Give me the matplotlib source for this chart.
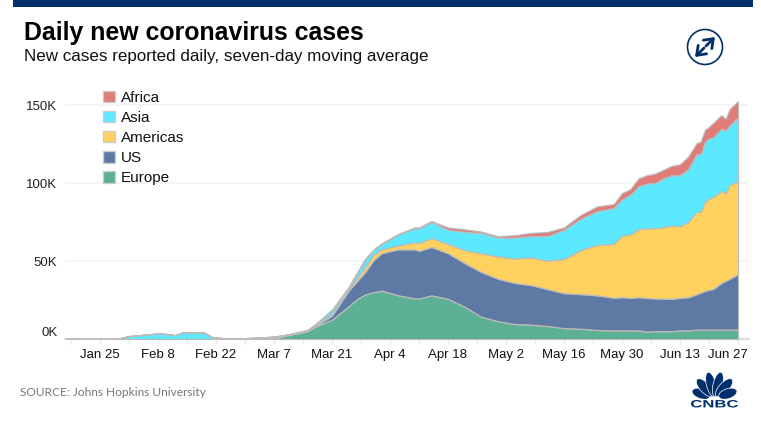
import numpy as np
import pandas as pd
import matplotlib
matplotlib.use('Agg')
from matplotlib import pyplot as plt
from matplotlib import dates as mdates
from matplotlib.patches import Patch, Rectangle, Circle, Ellipse, PathPatch
from matplotlib.textpath import TextPath
from matplotlib.font_manager import FontProperties
from matplotlib.transforms import Affine2D, ScaledTranslation

plt.rcParams['font.family'] = ['Liberation Sans', 'DejaVu Sans']

W, H = 761, 421
NAVY = '#002F6C'

dates = pd.to_datetime([
    '2020-01-17', '2020-01-29', '2020-02-01', '2020-02-05', '2020-02-08', '2020-02-11',
    '2020-02-12', '2020-02-14', '2020-02-19', '2020-02-21', '2020-02-24', '2020-02-27',
    '2020-03-03', '2020-03-07', '2020-03-11', '2020-03-15', '2020-03-17', '2020-03-21',
    '2020-03-25', '2020-03-27', '2020-03-29', '2020-03-31', '2020-04-02', '2020-04-06',
    '2020-04-10', '2020-04-11', '2020-04-14', '2020-04-18', '2020-04-22', '2020-04-26',
    '2020-04-30', '2020-05-04', '2020-05-08', '2020-05-12', '2020-05-16', '2020-05-20',
    '2020-05-24', '2020-05-28', '2020-05-30', '2020-06-01', '2020-06-03', '2020-06-05',
    '2020-06-07', '2020-06-09', '2020-06-11', '2020-06-13', '2020-06-15', '2020-06-17',
    '2020-06-18', '2020-06-19', '2020-06-20', '2020-06-21', '2020-06-23', '2020-06-24',
    '2020-06-25', '2020-06-27',
])

# thousands of new cases per day
europe = [0, 0, 0, 0, 0, 0, 0, 0, 0, 0, 0, 0, 0.1, 0.4, 2.8, 5, 8, 12.4, 21, 25.5, 28.6, 30, 31, 28,
          26, 26, 28, 25.7, 20.7, 14.3, 11.5, 9.6, 9.2, 8.3, 7, 6.6, 5.8, 5.5,
          5.5, 5.5, 5.5, 4.7, 5, 5.1, 5, 5.5, 5.5, 6, 6, 6, 6, 6, 6, 6, 6, 6]
us = [0, 0, 0, 0, 0, 0, 0, 0, 0, 0, 0, 0, 0, 0.1, 0.1, 0.1, 0.3, 2.6, 10, 11.5, 14.4, 20.5, 24, 29.5,
      31.5, 30.5, 31, 29.3, 28, 28.7, 27.2, 26.4, 25.4, 23.7, 22.4, 22.2, 22.2, 21,
      21.3, 20.9, 21.3, 21.6, 21, 20.8, 20.8, 20.9, 21.3, 22.7, 23.7, 24.8, 25.5, 26.1, 30, 31.3, 32.6, 35.6]
americas = [0, 0, 0, 0, 0, 0, 0, 0, 0, 0, 0, 0, 0, 0.1, 0.1, 0.2, 0.3, 1, 1, 2, 3, 3.5, 2.5, 2.5,
            4.5, 5, 5.7, 6, 8.3, 12, 14.3, 15.6, 17.7, 18.2, 21.9, 28.2, 32.4, 34.5,
            39.5, 40.6, 43.6, 44.7, 45, 45.8, 46.9, 46, 48.2, 52.8, 51.8, 57.2, 58.5, 58.9, 59, 56.1, 60.4, 59.4]
asia = [0, 0, 1.9, 2.8, 3.6, 3.0, 2.4, 4.3, 4.3, 1.3, 0.4, 0.3, 0.8, 0.9, 0.2, 0.3, 0.8, 2.5, 1, 3, 5, 3, 3.5, 7,
        9, 9.3, 10.3, 9, 11.7, 13, 12, 13.4, 13.7, 15.8, 18.7, 20, 21.6, 23,
        23.3, 25.5, 27.6, 28.7, 29, 31.3, 32.3, 32.6, 34, 37, 37, 38.5, 38.5, 38.3, 40, 40.1, 38, 41]
africa = [0, 0, 0, 0, 0, 0, 0, 0, 0, 0, 0, 0, 0, 0, 0.1, 0.1, 0.2, 0.2, 0.2, 0.2, 0.3, 0.2, 0.3, 0.4,
          0.6, 0.7, 0.6, 1.5, 1.6, 0.9, 0.9, 1.5, 2, 2.6, 1.5, 2.5, 3, 2.5,
          3.9, 3.5, 5, 5.3, 6, 5.5, 6, 7, 8, 7, 8, 7.5, 7.5, 9.2, 8.5, 7.5, 10.5, 10.5]

series_names = ['Europe', 'US', 'Americas', 'Asia', 'Africa']
series_colors = ['#5CB094', '#5E79A3', '#FFD15F', '#5CE8FF', '#E07B78']

y_ticks = [0, 50, 100, 150]
y_labels = ['0K', '50K', '100K', '150K']
x_major = pd.date_range('2020-01-25', '2020-06-27', freq='14D')
x_minor = pd.date_range('2020-01-18', '2020-06-27', freq='7D')
x_labels = [d.strftime('%b ') + str(d.day) for d in x_major]

fig = plt.figure(figsize=(W / 100, H / 100), dpi=100)

# chart area, 0K sits at y=339 and 150K at y=105
ax = fig.add_axes([65 / W, (H - 339) / H, (749 - 65) / W, 249.6 / H])
ax.stackplot(dates, europe, us, americas, asia, africa, colors=series_colors,
             edgecolor='#BBBBBB', linewidth=0.9, zorder=3)

px_day = 58 / 14
jan25 = mdates.date2num(pd.Timestamp('2020-01-25'))
ax.set_xlim(jan25 - 35 / px_day, jan25 + 649 / px_day)
ax.set_ylim(0, 160)

for s in ['top', 'right', 'left']:
    ax.spines[s].set_visible(False)
ax.spines['bottom'].set_color('#DDDDDD')
ax.spines['bottom'].set_linewidth(1.5)
ax.spines['bottom'].set_zorder(2)

ax.set_yticks(y_ticks)
ax.set_yticklabels(y_labels, fontsize=9.5, color='#222222')
ax.tick_params(axis='y', length=0, pad=5.5)
ax.grid(axis='y', color='#F5F5F5', linewidth=1.3, zorder=0)
ax.set_axisbelow(True)

ax.set_xticks(mdates.date2num(x_major))
ax.set_xticklabels(x_labels, fontsize=9.5, color='#111111')
ax.set_xticks(mdates.date2num(x_minor), minor=True)
ax.tick_params(axis='x', which='both', length=3.5, width=1, color='#EAEAEA', pad=3.5)

# first tick label sits a little high, last one pulled in from the edge
ylabs = ax.get_yticklabels()
ylabs[0].set_transform(ylabs[0].get_transform() + ScaledTranslation(0, 7 / 100, fig.dpi_scale_trans))
xlabs = ax.get_xticklabels()
xlabs[-1].set_transform(xlabs[-1].get_transform() + ScaledTranslation(-10 / 100, 0, fig.dpi_scale_trans))

handles = [Patch(facecolor=c, edgecolor='#CCCCCC', linewidth=1, label=n)
           for n, c in zip(series_names[::-1], series_colors[::-1])]
ax.legend(handles=handles, loc='upper left', bbox_to_anchor=(103 / W, (H - 90.5) / H),
          bbox_transform=fig.transFigure, frameon=False, fontsize=11, labelcolor='#111111',
          borderpad=0, borderaxespad=0, handlelength=0.78, handleheight=0.78,
          handletextpad=0.38, labelspacing=0.4)

# header, source and logo in pixel coordinates
deco = fig.add_axes([0, 0, 1, 1], zorder=5)
deco.set_xlim(0, W)
deco.set_ylim(H, 0)
deco.axis('off')
deco.add_patch(Rectangle((13, 0), 740, 7, color=NAVY, lw=0))
deco.text(24, 33, 'Daily new coronavirus cases', fontsize=17.9, fontweight='bold', color='#000000', va='center')
deco.text(24, 56, 'New cases reported daily, seven-day moving average', fontsize=12.25, color='#111111', va='center')
deco.text(20, 393, 'SOURCE: Johns Hopkins University', fontsize=8.6, family='Lato', color='#777777', va='center')

# expand icon
deco.add_patch(Circle((705, 47), 17.5, fill=False, ec=NAVY, lw=1.2))
for tail, head in [((706, 46), (715, 37)), ((704, 48), (695, 57))]:
    deco.annotate('', xy=head, xytext=tail,
                  arrowprops=dict(arrowstyle='->,head_length=0.45,head_width=0.33', color=NAVY, lw=2,
                                  mutation_scale=13, shrinkA=0, shrinkB=0))

# peacock
for ang, dist, length, wid in [(-72, 14, 19, 10), (-43, 14, 23, 10), (-14, 14, 25, 9.5),
                               (14, 14, 25, 9.5), (43, 14, 23, 10), (72, 14, 19, 10)]:
    a = np.deg2rad(ang)
    deco.add_patch(Ellipse((714.5 + dist * np.sin(a), 398 - dist * np.cos(a)), wid, length,
                           angle=ang, fc=NAVY, ec='white', lw=0.5))
deco.add_patch(Rectangle((688, 398.5), 53, 11, color='white', lw=0))

# logo letters are wider than any installed face, so stretch the glyph outlines
tp = TextPath((0, 0), 'CNBC', size=10, prop=FontProperties(family='Liberation Sans', weight='bold'))
bb = tp.get_extents()
tf = Affine2D().translate(-bb.x0, -bb.y0).scale(47 / bb.width, -7.5 / bb.height).translate(691, 407.5)
deco.add_patch(PathPatch(tp, transform=tf + deco.transData, fc=NAVY, lw=0))

fig.savefig('out.png', dpi=100)
